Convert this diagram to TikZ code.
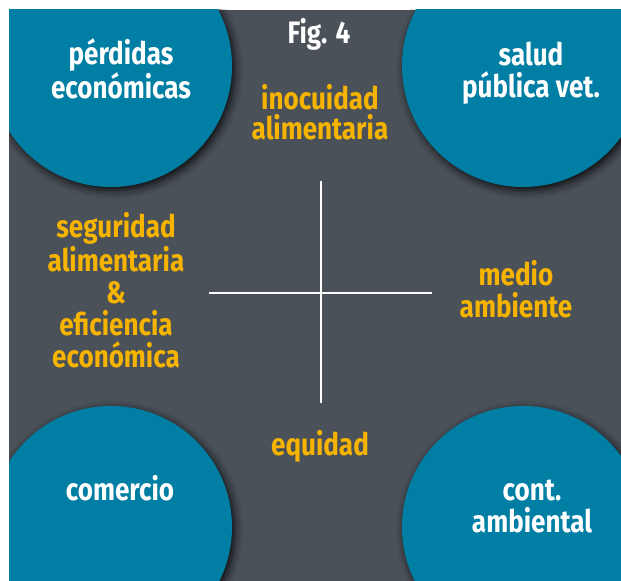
\documentclass[tikz,border=0pt]{standalone}
\usepackage{fontspec}
\newfontfamily\figfont{Fira Sans}[FakeStretch=0.84]
\usetikzlibrary{shadows.blur}

\definecolor{panelgrey}{RGB}{74,81,89}
\definecolor{discblue}{RGB}{0,126,163}
\definecolor{labelyellow}{RGB}{246,180,0}

\tikzset{every picture/.style={line width=0.75pt}}
\tikzset{
  disc/.style={fill=discblue, blur shadow={shadow xshift=2pt, shadow yshift=-2.5pt, shadow blur radius=6pt, shadow opacity=85}},
  wlabel/.style={anchor=base, inner sep=0.75pt, align=center, text=white, font=\figfont\bfseries\fontsize{23.25}{24}\selectfont},
  ylabel/.style={wlabel, text=labelyellow}
}

\begin{document}
\begin{tikzpicture}[x=0.75pt,y=0.75pt,yscale=-1,xscale=1]
\useasboundingbox (0,0) rectangle (621,581);
\fill[white] (0,0) rectangle (621,581);

%Shape: Panel
\fill[panelgrey] (9,10) rectangle (621,581);

\begin{scope}
\clip (9,10) rectangle (621,581);
%Shape: Circles in the corners
\fill[disc] (111,66) circle [radius=121];
\fill[disc] (523,66) circle [radius=121];
\fill[disc] (111,527) circle [radius=121];
\fill[disc] (523,527) circle [radius=121];
\end{scope}

%Straight Lines [cross]
\draw [white, line width=1.5pt]  (321,181) -- (321,403) ;
\draw [white, line width=1.5pt]  (209,293) -- (432,293) ;

% Text Node (base = last line)
\draw (319,44) node [wlabel] (fig) {Fig. 4};
% Text Node
\draw (121,99) node [wlabel, font=\figfont\bfseries\fontsize{23.25}{19.5}\selectfont] (perdidas) {pérdidas\\económicas};
% Text Node
\draw (531,98) node [wlabel] (salud) {salud\\pública vet.};
% Text Node
\draw (120,500) node [wlabel] (comercio) {comercio};
% Text Node
\draw (532,532) node [wlabel] (cont) {cont.\\ambiental};
% Text Node
\draw (320,140) node [ylabel, font=\figfont\bfseries\fontsize{23.25}{22.5}\selectfont] (inocuidad) {inocuidad\\alimentaria};
% Text Node
\draw (116,367) node [ylabel] (seguridad) {seguridad\\alimentaria\\\&\\eficiencia\\económica};
% Text Node
\draw (516,317) node [ylabel] (medio) {medio\\ambiente};
% Text Node
\draw (320,455) node [ylabel] (equidad) {equidad};

\end{tikzpicture}
\end{document}
